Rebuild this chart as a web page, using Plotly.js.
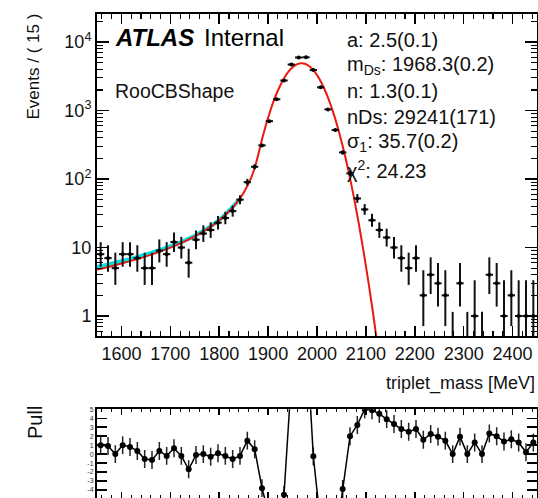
<!DOCTYPE html>
<html><head><meta charset="utf-8">
<script src="https://cdn.plot.ly/plotly-3.0.1.min.js"></script>
<style>html,body{margin:0;padding:0;background:#fff;}#chart{width:538px;height:498px;}</style>
</head><body><div id="chart"></div>
<script>
// ---- data ----
const binCenters = [1557.5,1572.5,1587.5,1602.5,1617.5,1632.5,1647.5,1662.5,1677.5,1692.5,
  1707.5,1722.5,1737.5,1752.5,1767.5,1782.5,1797.5,1812.5,1827.5,1842.5,
  1857.5,1872.5,1887.5,1902.5,1917.5,1932.5,1947.5,1962.5,1977.5,1992.5,
  2007.5,2022.5,2037.5,2052.5,2067.5,2082.5,2097.5,2112.5,2127.5,2142.5,
  2157.5,2172.5,2187.5,2202.5,2217.5,2232.5,2247.5,2262.5,2277.5,2292.5,
  2307.5,2322.5,2337.5,2352.5,2367.5,2382.5,2397.5,2412.5,2427.5,2442.5];
const counts = [8,7,5,8,8,7,5,5,9,8,
  12,10,6,13,16,18,23,27,34,50,
  90,151,310,700,1460,2750,4700,5950,6000,3900,
  2180,1040,520,245,121,52,36,25,18,14,
  10,7,5,7,2,4,3,2,0,3,
  0,1,0,4,3,1,2,1,1,1];
const pulls = [1.0,0.9,0.0,1.0,0.8,0.35,-0.55,-0.65,0.35,-0.2,
  0.65,-0.2,-1.7,-0.1,0.0,-0.3,0.1,-0.2,-0.55,-0.2,
  1.5,0.55,-3.8,-6.9,-8.7,-4.55,8.3,12.7,14.0,-0.25,
  -10.2,-15.5,-10.0,-3.9,2.0,3.25,5.0,4.9,4.5,3.9,
  3.35,2.8,2.5,2.8,1.6,2.25,1.95,1.5,0.0,1.95,
  0.0,1.3,0.0,2.3,2.0,1.4,1.65,1.3,0.2,1.3];
const curveX = [1550,1575,1600,1625,1650,1675,1700,1725,1750,1775,1800,1825,1840,1850,1865,1872,1879,
  1890,1900,1910,1920,1930,1940,1950,1960,1968,1975,1985,1995,2005,2015,2025,2035,2045,2055,2065,2075,2085,2095,2105,2115,2125];
const curveY = [4.77,5.25,5.84,6.54,7.41,8.51,9.94,11.85,14.5,18.5,24.9,36.5,49.3,63.2,103,141,215,
  442,786,1292,1962,2756,3577,4297,4769,4900,4814,4392,3704,2889,2083,1389,856,488,257,125,56.2,23.4,9.0,3.21,1.06,0.32];
const cyanX = [1550,1600,1650,1700,1750,1800,1840];
const cyanY = [5.2,6.3,7.9,10.4,14.9,25.2,49.4];
const xTickVals = [1600,1700,1800,1900,2000,2100,2200,2300,2400];
const yTickVals = [1,10,100,1000,10000];
const yTickText = ['1','10','10<sup>2</sup>','10<sup>3</sup>','10<sup>4</sup>'];
const pullTickVals = [-4,-3,-2,-1,0,1,2,3,4,5];
const pullTickText = ['-4','-3','-2','-1','0','1','2','3','4','5'];
const paramLines = ['a: 2.5(0.1)','m<sub>Ds</sub>: 1968.3(0.2)','n: 1.3(0.1)','nDs: 29241(171)','σ<sub>1</sub>: 35.7(0.2)','χ<sup>2</sup>: 24.23'];
const halfBin = 7.5;

// ---- Poisson (Garwood 68%) error bars ----
const nz = [], zero = [];
binCenters.forEach((x,i)=>{ if(counts[i]>0) nz.push(i); else zero.push(i); });
function upErr(n){ return 1 + Math.sqrt(n + 0.75); }
function loErr(n){ const l = n*Math.pow(1 - 1/(9*n) - 1/(3*Math.sqrt(n)),3); return n - l; }

const W=538,H=498,ML=97,MR=1,MT=14,MB=0;
const fx = p => (p-ML)/(W-ML-MR);
const fy = p => (H-MB-p)/(H-MT-MB);
const FONT = 'Liberation Sans, Arial, sans-serif';

const traces = [
 {x:cyanX, y:cyanY, xaxis:'x', yaxis:'y', mode:'lines', line:{color:'rgb(0,225,230)', width:4, shape:'spline'}, hoverinfo:'skip'},
 {x:curveX, y:curveY, xaxis:'x', yaxis:'y', mode:'lines', line:{color:'rgb(235,25,15)', width:2, shape:'spline'}, hoverinfo:'skip'},
 {x:nz.map(i=>binCenters[i]), y:nz.map(i=>counts[i]), xaxis:'x', yaxis:'y', mode:'markers',
  marker:{color:'#000', size:4},
  error_y:{type:'data', symmetric:false, array:nz.map(i=>upErr(counts[i])), arrayminus:nz.map(i=>loErr(counts[i])), color:'#111', thickness:2, width:0},
  error_x:{type:'constant', value:halfBin, color:'#111', thickness:2, width:0}},
 {x:zero.map(i=>binCenters[i]), y:zero.map(i=>1.148), xaxis:'x', yaxis:'y', mode:'markers',
  marker:{color:'rgba(0,0,0,0)', size:1},
  error_y:{type:'data', symmetric:false, array:zero.map(i=>0), arrayminus:zero.map(i=>1.147), color:'#111', thickness:2, width:0}},
 {x:binCenters, y:pulls, xaxis:'x2', yaxis:'y2', mode:'lines+markers',
  line:{color:'#000', width:1.5}, marker:{color:'#000', size:6},
  error_y:{type:'constant', value:1, color:'#222', thickness:1.5, width:0}}
];

const minorLog = [];
[1,10,100,1000,10000].forEach(d=>{ for(let k=2;k<=9;k++) minorLog.push(k*d); });
minorLog.unshift(0.6,0.7,0.8,0.9);

const axBase = {showline:true, linewidth:2, linecolor:'#000', mirror:'allticks', showgrid:false, zeroline:false,
  ticks:'inside', tickcolor:'#000', tickfont:{family:FONT, size:18, color:'#111'}};

const layout = {
  width:W, height:H, margin:{l:ML, r:MR, t:MT, b:MB, pad:0},
  paper_bgcolor:'#fff', plot_bgcolor:'#fff', showlegend:false,
  xaxis:Object.assign({}, axBase, {domain:[0,1], anchor:'y', range:[1550,2450], tickmode:'array', tickvals:xTickVals,
    ticklen:10, tickwidth:1.5, minor:{dtick:20, tick0:1600, ticks:'inside', ticklen:5, tickwidth:1.2, tickcolor:'#000'}}),
  yaxis:Object.assign({}, axBase, {domain:[fy(336),1], anchor:'x', type:'log', range:[Math.log10(0.51), 4.41],
    tickmode:'array', tickvals:yTickVals, ticktext:yTickText, ticklen:12, tickwidth:1.5,
    minor:{tickmode:'array', tickvals:minorLog, ticks:'inside', ticklen:6, tickwidth:1.2, tickcolor:'#000'}}),
  xaxis2:Object.assign({}, axBase, {domain:[0,1], anchor:'y2', range:[1550,2450], matches:'x', tickmode:'array', tickvals:xTickVals,
    showticklabels:false, ticklen:6, tickwidth:1.5, minor:{dtick:20, tick0:1600, ticks:'inside', ticklen:3, tickwidth:1, tickcolor:'#000'}}),
  yaxis2:Object.assign({}, axBase, {domain:[0,fy(409.3)], anchor:'x2', range:[-4.9,5], tickmode:'array',
    tickvals:pullTickVals, ticktext:pullTickText, ticklen:10, tickwidth:1.5, tickfont:{family:FONT, size:7, color:'#333'}}),
  annotations:[
    {text:'<b><i>ATLAS</i></b>', x:fx(113), y:fy(37), xref:'paper', yref:'paper', xanchor:'left', yanchor:'middle', showarrow:false, font:{family:FONT, size:24, color:'#000'}},
    {text:'Internal', x:fx(202), y:fy(37), xref:'paper', yref:'paper', xanchor:'left', yanchor:'middle', showarrow:false, font:{family:FONT, size:24, color:'#000'}},
    {text:'RooCBShape', x:fx(113), y:fy(91), xref:'paper', yref:'paper', xanchor:'left', yanchor:'middle', showarrow:false, font:{family:FONT, size:19.5, color:'#111'}},
    {text:'Events / ( 15 )', x:fx(33), y:fy(66.5), xref:'paper', yref:'paper', xanchor:'center', yanchor:'middle', textangle:-90, showarrow:false, font:{family:FONT, size:17, color:'#111'}},
    {text:'Pull', x:fx(35), y:fy(423), xref:'paper', yref:'paper', xanchor:'center', yanchor:'middle', textangle:-90, showarrow:false, font:{family:FONT, size:20, color:'#111'}},
    {text:'triplet_mass [MeV]', x:fx(537), y:fy(383), xref:'paper', yref:'paper', xanchor:'right', yanchor:'middle', showarrow:false, font:{family:FONT, size:18, color:'#111'}}
  ]
};
const paramY = [40,66,91,117,143,169];
paramLines.forEach((t,i)=>{
  layout.annotations.push({text:t, x:fx(345), y:fy(paramY[i]), xref:'paper', yref:'paper', xanchor:'left', yanchor:'middle', showarrow:false, font:{family:FONT, size:20, color:'#111'}});
});

Plotly.newPlot('chart', traces, layout, {displayModeBar:false, staticPlot:true});
</script>
</body></html>
